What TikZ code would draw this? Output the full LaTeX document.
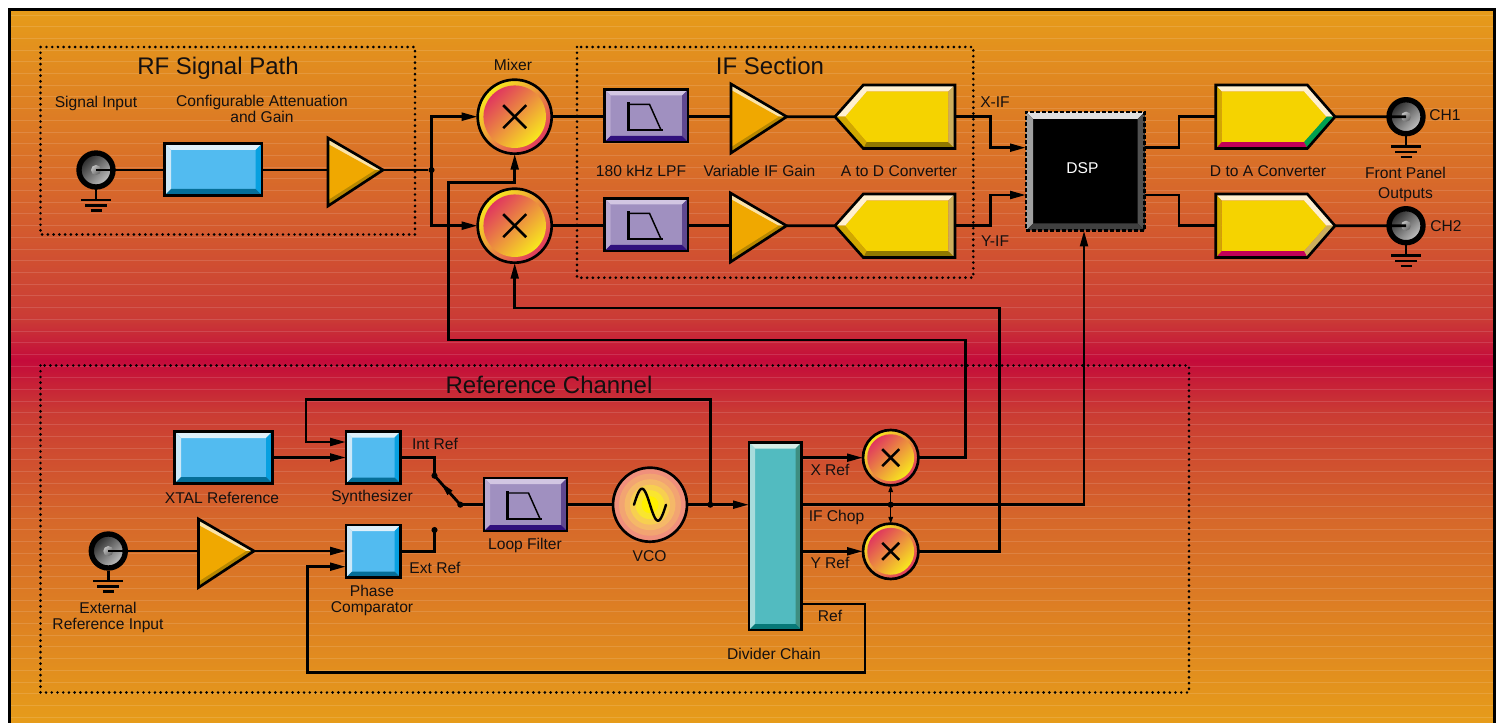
\documentclass[tikz,border=0pt]{standalone}
\usepackage{fontspec}
\setmainfont{Liberation Sans}
\usetikzlibrary{arrows.meta,calc}
\definecolor{ink}{HTML}{141010}
\definecolor{blueM}{HTML}{52BBF0}\definecolor{blueT}{HTML}{DFF0FA}\definecolor{blueL}{HTML}{CBE8F8}\definecolor{blueR}{HTML}{08A0E0}\definecolor{blueB}{HTML}{056E98}
\definecolor{purpM}{HTML}{A090C0}\definecolor{purpT}{HTML}{D2C6E2}\definecolor{purpL}{HTML}{B8A8D0}\definecolor{purpR}{HTML}{604890}\definecolor{purpB}{HTML}{30107C}
\definecolor{tealM}{HTML}{52BBC0}\definecolor{tealT}{HTML}{D5ECE6}\definecolor{tealL}{HTML}{A8DCDC}\definecolor{tealR}{HTML}{3E8E80}\definecolor{tealB}{HTML}{087878}
\definecolor{dspM}{HTML}{000000}\definecolor{dspT}{HTML}{E0E0E0}\definecolor{dspL}{HTML}{A0A0A0}\definecolor{dspR}{HTML}{505050}\definecolor{dspB}{HTML}{404040}
\definecolor{ampM}{HTML}{F0A800}\definecolor{ampT}{HTML}{FBE3A8}\definecolor{ampB}{HTML}{B88800}
\definecolor{yelM}{HTML}{F5D300}\definecolor{yelC}{HTML}{FFF0D0}\definecolor{yelD}{HTML}{D0A800}\definecolor{yelE}{HTML}{907800}\definecolor{yelF}{HTML}{CCAE5C}
\definecolor{dacG}{HTML}{00A050}\definecolor{dacC}{HTML}{C00058}
\definecolor{mulP}{HTML}{E0385E}\definecolor{mulY}{HTML}{F8E81E}
\tikzset{
  px/.style={x=0.75pt,y=-0.75pt},
  wire/.style={draw=black,line width=2.1pt,line join=miter},
  arrowed/.style={wire,-{Triangle[length=12pt,width=5.8pt]}},
  thinarrow/.style={draw=black,line width=0.9pt,-{Triangle[length=5pt,width=3.4pt]}},
  outline/.style={draw=black,line width=2pt,line join=miter},
  dspline/.style={draw=black,line width=1.9pt,dash pattern=on 3pt off 1.5pt},
  shapenode/.style={inner sep=0pt,outer sep=0pt},
  region/.style={draw=black,line width=2.2pt,line cap=round,dash pattern=on 0pt off 4.3pt},
  big/.style={font=\fontsize{18}{20}\selectfont,text=ink,inner sep=0pt},
  lab/.style={font=\fontsize{11.7}{12}\selectfont,text=ink,inner sep=0pt,align=center},
  dot/.style={circle,fill=black,inner sep=0pt,minimum size=4.6pt},
}
% name x1 y1 x2 y2 bevel palette
\newcommand{\bevbox}[8][outline]{
  \fill[#8M] (#3,#4) rectangle (#5,#6);
  \fill[#8T] (#3,#4) -- (#5,#4) -- ({#5-#7},{#4+#7}) -- ({#3+#7},{#4+#7}) -- cycle;
  \fill[#8L] (#3,#4) -- ({#3+#7},{#4+#7}) -- ({#3+#7},{#6-#7}) -- (#3,#6) -- cycle;
  \fill[#8R] (#5,#4) -- ({#5-#7},{#4+#7}) -- ({#5-#7},{#6-#7}) -- (#5,#6) -- cycle;
  \fill[#8B] (#3,#6) -- ({#3+#7},{#6-#7}) -- ({#5-#7},{#6-#7}) -- (#5,#6) -- cycle;
  \node[shapenode,#1,minimum width={(#5-#3)*0.75pt},minimum height={(#6-#4)*0.75pt}] (#2) at ({(#3+#5)/2},{(#4+#6)/2}) {};
}
% name xleft ytop xtip ytip ybot
\newcommand{\ampl}[6]{
  \fill[ampT] (#2,#3) -- (#4,#5) -- (#2,#5) -- cycle;
  \fill[ampB] (#2,#6) -- (#4,#5) -- (#2,#5) -- cycle;
  \fill[ampM] (#2,{#3+6}) -- ({#4-8},#5) -- (#2,{#6-6}) -- cycle;
  \draw[outline] (#2,#3) -- (#4,#5) -- (#2,#6) -- cycle;
  \node[shapenode,minimum width={(#4-#2)*0.75pt},minimum height={2*(#6-#5)*0.75pt}] (#1) at ({(#2+#4)/2},#5) {};
}
% name ytop ybot
\newcommand{\adc}[3]{
  \def\ym{{(#2+#3)/2}}
  \fill[yelM] (845,\ym) -- (866.7,{#2+6.4}) -- (948.3,{#2+6.4}) -- (948.3,{#3-6.4}) -- (866.7,{#3-6.4}) -- cycle;
  \fill[yelC] (835,\ym) -- (863.3,#2) -- (955,#2) -- (948.3,{#2+6.4}) -- (866.7,{#2+6.4}) -- (845,\ym) -- cycle;
  \fill[yelD] (835,\ym) -- (863.3,#3) -- (866.7,{#3-6.4}) -- (845,\ym) -- cycle;
  \fill[yelE] (863.3,#3) -- (955,#3) -- (948.3,{#3-6.4}) -- (866.7,{#3-6.4}) -- cycle;
  \fill[yelF] (955,#2) -- (955,#3) -- (948.3,{#3-6.4}) -- (948.3,{#2+6.4}) -- cycle;
  \draw[outline] (835,\ym) -- (863.3,#2) -- (955,#2) -- (955,#3) -- (863.3,#3) -- cycle;
  \node[shapenode,minimum width={120*0.75pt},minimum height={(#3-#2)*0.75pt}] (#1) at (895,\ym) {};
}
% name ytop ybot lower-right colour
\newcommand{\dac}[4]{
  \def\ym{{(#2+#3)/2}}
  \fill[yelM] (1221.5,{#2+6.4}) -- (1304,{#2+6.4}) -- (1326.5,\ym) -- (1304,{#3-6.4}) -- (1221.5,{#3-6.4}) -- cycle;
  \fill[yelC] (1215.7,#2) -- (1307.3,#2) -- (1335,\ym) -- (1326.5,\ym) -- (1304,{#2+6.4}) -- (1221.5,{#2+6.4}) -- cycle;
  \fill[#4] (1335,\ym) -- (1307.3,#3) -- (1304,{#3-6.4}) -- (1326.5,\ym) -- cycle;
  \fill[dacC] (1215.7,#3) -- (1307.3,#3) -- (1304,{#3-6.4}) -- (1221.5,{#3-6.4}) -- cycle;
  \fill[yelD] (1215.7,#2) -- (1221.5,{#2+6.4}) -- (1221.5,{#3-6.4}) -- (1215.7,#3) -- cycle;
  \draw[outline] (1215.7,#2) -- (1307.3,#2) -- (1335,\ym) -- (1307.3,#3) -- (1215.7,#3) -- cycle;
  \node[shapenode,minimum width={(1335-1215.7)*0.75pt},minimum height={(#3-#2)*0.75pt}] (#1) at ({(1335+1215.7)/2},\ym) {};
}
% name cx cy r xsize
\newcommand{\mult}[5]{
  \shade[top color=mulY,bottom color=mulP,shading angle=45] (#2,#3) circle[radius=#4];
  \shade[top color=mulP,bottom color=mulY,shading angle=45] (#2,#3) circle[radius={#4-#5*0.5}];
  \node[shapenode,circle,outline,minimum size={2*#4*0.75pt}] (#1) at (#2,#3) {};
  \draw[line width=1.9pt] ({#2-#5},{#3-#5}) -- ({#2+#5},{#3+#5}) ({#2-#5},{#3+#5}) -- ({#2+#5},{#3-#5});
}
% name cx cy
\newcommand{\bnc}[3]{
  \shade[top color=black!82,bottom color=black!25,shading angle=45] (#2,#3) circle[radius=15];
  \draw[black,line width=4pt] (#2,#3) circle[radius=17];
  \shade[top color=black!25,bottom color=black!62,shading angle=45] (#2,#3) circle[radius=5];
  \node[shapenode,circle,minimum size={39*0.75pt}] (#1) at (#2,#3) {};
  \coordinate (#1g) at (#2,{#3+30});
  \draw[wire] (#1.south) -- (#1g);
  \draw[line width=1.8pt] ({#2-15},{#3+30}) -- ({#2+15},{#3+30}) ({#2-11},{#3+35.5}) -- ({#2+11},{#3+35.5}) ({#2-5.5},{#3+40.5}) -- ({#2+5.5},{#3+40.5});
}
% x y (upper-left of filter glyph)
\newcommand{\lowpass}[2]{
  \draw[line width=1.7pt] (#1,#2) -- (#1,{#2+27.7}) -- ({#1+34.5},{#2+27.7});
  \draw[line width=1.1pt] (#1,{#2+2}) -- ({#1+21},{#2+2}) -- ({#1+32.5},{#2+27.7});
}
\begin{document}
\begin{tikzpicture}[px]
\useasboundingbox (0,0) rectangle (1501,723);
\fill[white] (0,0) rectangle (1501,723);
% background gradient
\shade[top color={rgb,255:red,230;green,156;blue,26},bottom color={rgb,255:red,214;green,100;blue,44}] (9,9) rectangle (1495,201);
\shade[top color={rgb,255:red,214;green,100;blue,44},bottom color={rgb,255:red,202;green,58;blue,54}] (9,200) rectangle (1495,321);
\shade[top color={rgb,255:red,202;green,58;blue,54},bottom color={rgb,255:red,196;green,10;blue,58}] (9,320) rectangle (1495,361);
\shade[top color={rgb,255:red,196;green,10;blue,58},bottom color={rgb,255:red,202;green,58;blue,52}] (9,360) rectangle (1495,411);
\shade[top color={rgb,255:red,202;green,58;blue,52},bottom color={rgb,255:red,214;green,104;blue,42}] (9,410) rectangle (1495,521);
\shade[top color={rgb,255:red,214;green,104;blue,42},bottom color={rgb,255:red,230;green,156;blue,26}] (9,520) rectangle (1495,723);
\foreach \s in {0,...,60}{
  \draw[white,opacity=0.13,line width=0.6pt] (11,{15+\s*11.7}) -- (1493,{15+\s*11.7});
}
% frame, open at the bottom
\draw[black,line width=2.3pt,line join=miter] (9.5,723) -- (9.5,9.5) -- (1494.5,9.5) -- (1494.5,723);

% --- blocks
\bnc{sigin}{96}{170}
\bevbox{atten}{164.5}{143.5}{262}{195.5}{6.5}{blue}
\ampl{ampa}{328}{138}{383}{170}{206}
\mult{mixa}{514.7}{116.7}{37}{11.5}
\mult{mixb}{514.7}{225.7}{37}{11.5}
\bevbox{lpfa}{604.5}{89.5}{688}{142}{6}{purp}
\lowpass{628.5}{102.3}
\bevbox{lpfb}{604.5}{198.5}{688}{251}{6}{purp}
\lowpass{628.5}{211.3}
\ampl{ampb}{731}{84}{786.7}{116.7}{153}
\ampl{ampc}{730.5}{193}{786.5}{225.7}{262}
\adc{adca}{85}{148.5}
\adc{adcb}{194}{257.5}
\bevbox[dspline]{dsp}{1026}{112}{1144.5}{230.5}{7}{dsp}
\dac{daca}{85}{148.5}{dacG}
\dac{dacb}{194}{257.5}{yelF}
\bnc{cha}{1406}{116.7}
\bnc{chb}{1406}{225.7}

\bevbox{xtal}{174.5}{431.5}{272.5}{483.5}{6.5}{blue}
\bevbox{synth}{346}{431.5}{400.5}{483.5}{6}{blue}
\bevbox{phase}{346}{525}{400.5}{577.5}{6}{blue}
\bnc{extin}{108.3}{551}
\ampl{ampd}{198.5}{519}{254}{551}{587.5}
\bevbox{loopf}{484}{478}{567}{531}{6}{purp}
\lowpass{507.5}{491}
\foreach \r/\c in {37/{F0907C},31/{F2A472},25.5/{F5B868},20/{F7CF50},14.5/{F9E530},8.5/{FFF000}}{
  \definecolor{vcoc}{HTML}{\c}
  \fill[vcoc] (650,504.7) circle[radius=\r];
}
\node[shapenode,circle,outline,minimum size={74*0.75pt}] (vco) at (650,504.7) {};
\draw[line width=1.8pt,domain=-1:1,samples=40,smooth,line cap=round] plot ({650+16*\x},{504.7+16*sin(180*\x)});
\bevbox{divider}{749}{442.5}{801.5}{630}{6}{teal}
\mult{xmula}{890.7}{457.7}{27.7}{8.5}
\mult{xmulb}{890.7}{551.3}{27.7}{8.5}

% --- dots and switch contacts
\node[dot] (jrf) at (431.5,170) {};
\node[dot] (jvco) at (710.3,504.7) {};
\node[dot] (jchop) at (890.7,504.7) {};
\node[dot] (swint) at (434.5,475.7) {};
\node[dot] (swext) at (434.5,530) {};
\node[dot] (swcom) at (460.3,504.7) {};

% --- connectors
\draw[wire] (sigin.center) -- (sigin.center -| atten.west);
\draw[wire] (sigin.center -| atten.east) -- (sigin.center -| ampa.west);
\draw[wire] (ampa.east) -- (jrf);
\draw[arrowed] (jrf.center) |- (mixa.west);
\draw[arrowed] (jrf.center) |- (mixb.west);
\coordinate (refxa) at (448.5,340);
\coordinate (refxb) at (448.5,182.3);
\coordinate (refxc) at (965.7,340);
\draw[arrowed] (xmula.east) -| (refxc) -- (refxa) -- (refxb) -| (mixa.south);
\coordinate (refyb) at (999.5,308);
\draw[arrowed] (xmulb.east) -| (refyb) -| (mixb.south);
\draw[wire] (mixa.east) -- (mixa.east -| lpfa.west);
\draw[wire] (mixb.east) -- (mixb.east -| lpfb.west);
\draw[wire] (mixa.east -| lpfa.east) -- (ampb.west);
\draw[wire] (mixb.east -| lpfb.east) -- (ampc.west);
\draw[wire] (ampb.east) -- (adca.west);
\draw[wire] (ampc.east) -- (adcb.west);
\coordinate (xifa) at (990.7,116.7);
\coordinate (xifb) at (990.7,147.7);
\coordinate (yifa) at (990.7,225.7);
\coordinate (yifb) at (990.7,195);
\draw[arrowed] (adca.east |- xifa) -- (xifa) -- (xifb) -- (dsp.west |- xifb);
\draw[arrowed] (adcb.east |- yifa) -- (yifa) -- (yifb) -- (dsp.west |- yifb);
\coordinate (oa) at (1179,147.7);
\coordinate (ob) at (1179,195);
\draw[wire] (dsp.east |- oa) -- (oa) |- (daca.west);
\draw[wire] (dsp.east |- ob) -- (ob) |- (dacb.west);
\draw[wire] (daca.east) -- (cha.center);
\draw[wire] (dacb.east) -- (chb.center);
\draw[wire] (extin.center) -- (ampd.west);
\draw[arrowed] (ampd.east) -- (ampd.east -| phase.west);
\draw[arrowed] (xtal.east) -- (synth.west);
\coordinate (fba) at (306,442);
\coordinate (fbb) at (306,399.5);
\coordinate (fbc) at (710.3,399.5);
\draw[arrowed] (jvco.center) -- (fbc) -- (fbb) -- (fba) -- (synth.west |- fba);
\coordinate (rfa) at (801.5,604);
\coordinate (rfb) at (865,604);
\coordinate (rfc) at (865,672.3);
\coordinate (rfd) at (307.3,672.3);
\coordinate (rfe) at (307.3,566.7);
\draw[arrowed] (rfa) -- (rfb) -- (rfc) -- (rfd) -- (rfe) -- (phase.west |- rfe);
\draw[wire] (synth.east) -| (swint.center);
\draw[wire] (phase.east) -| (swext.center);
\draw[wire] (swcom.center) -- (swint.center);
\draw[black,-{Triangle[length=10pt,width=5pt]}] (451,494) -- (441,483);
\draw[wire] (swcom.center) -- (swcom.center -| loopf.west);
\draw[wire] (swcom.center -| loopf.east) -- (vco.west);
\draw[wire] (vco.east) -- (jvco.center);
\draw[arrowed] (jvco.center) -- (jvco.center -| divider.west);
\draw[arrowed] (divider.east |- xmula) -- (xmula.west);
\draw[arrowed] (divider.east |- xmulb) -- (xmulb.west);
\coordinate (chopc) at (1084,504.7);
\draw[arrowed] (divider.east |- chopc) -- (chopc) -- (chopc |- dsp.south);
\draw[thinarrow] (jchop.center) -- (xmula.south);
\draw[thinarrow] (jchop.center) -- (xmulb.north);

% --- regions
\draw[region] (40.5,47) rectangle (415,234.5);
\draw[region] (577,47) rectangle (973.3,277.7);
\draw[region] (40.5,365.5) rectangle (1189,692.5);

% --- labels
\node[big] (t1) at (218,68) {RF Signal Path};
\node[big] (t2) at (770,66) {IF Section};
\node[big] (t3) at (549,384.5) {Reference Channel};
\node[lab] (l1) at (96,103) {Signal Input};
\node[lab] (l2) at (262,109) {Configurable Attenuation\\and Gain};
\node[lab] (l3) at (513,65) {Mixer};
\node[lab] (l4) at (641,171) {180 kHz LPF};
\node[lab] (l5) at (759.5,171) {Variable IF Gain};
\node[lab] (l6) at (899,171) {A to D Converter};
\node[lab] (l7) at (995,102.5) {X-IF};
\node[lab] (l8) at (995,241) {Y-IF};
\node[lab,text=white] (l9) at (1082.5,168.5) {DSP};
\node[lab] (l10) at (1268,171) {D to A Converter};
\node[lab] (l11) at (1405.5,184.5) {Front Panel\\[3pt]Outputs};
\node[lab] (l12) at (1445,115) {CH1};
\node[lab] (l13) at (1446,226.5) {CH2};
\node[lab] (l14) at (435,443.5) {Int Ref};
\node[lab] (l15) at (222,497.5) {XTAL Reference};
\node[lab] (l16) at (372,497.5) {Synthesizer};
\node[lab] (l17) at (435,567.5) {Ext Ref};
\node[lab] (l18) at (372,600.5) {Phase\\Comparator};
\node[lab] (l19) at (108,617.5) {External\\Reference Input};
\node[lab] (l20) at (525,545) {Loop Filter};
\node[lab] (l21) at (649.5,556.5) {VCO};
\node[lab] (l22) at (830,469.5) {X Ref};
\node[lab] (l23) at (836.5,517) {IF Chop};
\node[lab] (l24) at (830,563) {Y Ref};
\node[lab] (l25) at (830,616) {Ref};
\node[lab] (l26) at (774,654) {Divider Chain};
\end{tikzpicture}
\end{document}
